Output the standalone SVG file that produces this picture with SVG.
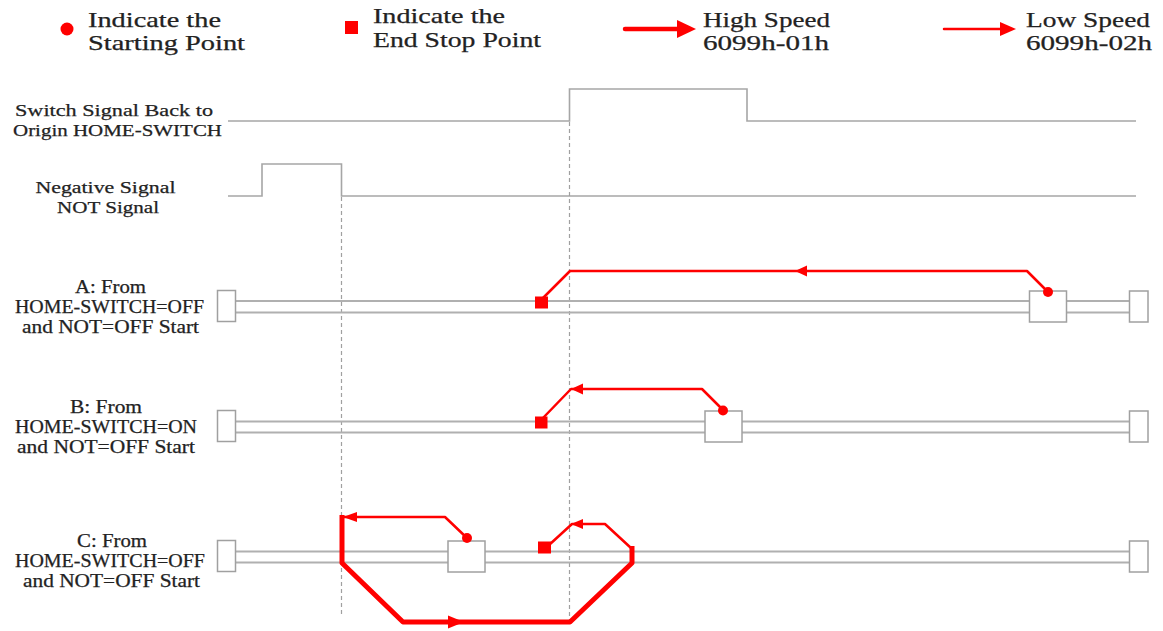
<svg xmlns="http://www.w3.org/2000/svg" width="1163" height="631" viewBox="0 0 1163 631">
<style>
text{font-family:"Liberation Serif","DejaVu Serif",serif;fill:#222;stroke:#222;stroke-width:0.25}
.lg{font-size:21px}
.lb{font-size:18px}
.sl{font-size:17.5px}
.sig{fill:none;stroke:#a6a6a6;stroke-width:1.6}
.trk{stroke:#b0b0b0;stroke-width:1.8}
.box{fill:#fff;stroke:#a0a0a0;stroke-width:1.5}
.dash{stroke:#a0a0a0;stroke-width:1.2;stroke-dasharray:4 3}
.thin{fill:none;stroke:#f00;stroke-width:2.5;stroke-linejoin:round}
.thick{fill:none;stroke:#f00;stroke-width:5;stroke-linejoin:round}
.red{fill:#f00}
</style>
<rect width="1163" height="631" fill="#fff"/>

<g id="legend-start">
<circle class="red" cx="67" cy="29" r="6.5"/>
<text class="lg" x="88" y="27" textLength="133" lengthAdjust="spacingAndGlyphs">Indicate the</text>
<text class="lg" x="88" y="50" textLength="157" lengthAdjust="spacingAndGlyphs">Starting Point</text>
</g>
<g id="legend-end">
<rect class="red" x="345" y="21" width="13" height="13"/>
<text class="lg" x="373" y="23" textLength="132" lengthAdjust="spacingAndGlyphs">Indicate the</text>
<text class="lg" x="373" y="47" textLength="168" lengthAdjust="spacingAndGlyphs">End Stop Point</text>
</g>
<g id="legend-high">
<line x1="625" y1="29" x2="680" y2="29" stroke="#f00" stroke-width="4.5" stroke-linecap="round"/>
<polygon class="red" points="677,20 696,29 677,38"/>
<text class="lg" x="703" y="27" textLength="127" lengthAdjust="spacingAndGlyphs">High Speed</text>
<text class="lg" x="703" y="50" textLength="126" lengthAdjust="spacingAndGlyphs">6099h-01h</text>
</g>
<g id="legend-low">
<line x1="944" y1="29" x2="1003" y2="29" stroke="#f00" stroke-width="2.5" stroke-linecap="round"/>
<polygon class="red" points="1000,22 1016,29 1000,36"/>
<text class="lg" x="1026" y="27" textLength="124" lengthAdjust="spacingAndGlyphs">Low Speed</text>
<text class="lg" x="1026" y="50" textLength="126" lengthAdjust="spacingAndGlyphs">6099h-02h</text>
</g>

<g id="signal-home">
<text class="sl" x="114" y="116" text-anchor="middle" textLength="198" lengthAdjust="spacingAndGlyphs">Switch Signal Back to</text>
<text class="sl" x="117.5" y="136" text-anchor="middle" textLength="209" lengthAdjust="spacingAndGlyphs">Origin HOME-SWITCH</text>
<polyline class="sig" points="228,121 569.5,121 569.5,89 747,89 747,121 1136,121"/>
</g>
<g id="signal-not">
<text class="sl" x="105.5" y="193" text-anchor="middle" textLength="140" lengthAdjust="spacingAndGlyphs">Negative Signal</text>
<text class="sl" x="108" y="213" text-anchor="middle" textLength="102" lengthAdjust="spacingAndGlyphs">NOT Signal</text>
<polyline class="sig" points="228,196 262,196 262,164 341.5,164 341.5,196 1136,196"/>
</g>

<g id="guides">
<line class="dash" x1="341.5" y1="197" x2="341.5" y2="615"/>
<line class="dash" x1="569.5" y1="122" x2="569.5" y2="622"/>
</g>

<g id="track-a">
<text class="lb" x="110.5" y="293" text-anchor="middle" textLength="71" lengthAdjust="spacingAndGlyphs">A: From</text>
<text class="lb" x="109.5" y="313" text-anchor="middle" textLength="189" lengthAdjust="spacingAndGlyphs">HOME-SWITCH=OFF</text>
<text class="lb" x="110.5" y="333" text-anchor="middle" textLength="177" lengthAdjust="spacingAndGlyphs">and NOT=OFF Start</text>
<line class="trk" x1="235" y1="301" x2="1129" y2="301"/>
<line class="trk" x1="235" y1="312.5" x2="1129" y2="312.5"/>
<rect class="box" x="217.5" y="290.5" width="18" height="31"/>
<rect class="box" x="1029.5" y="291" width="37" height="31"/>
<rect class="box" x="1129.5" y="291" width="18.5" height="31"/>
</g>
<g id="track-b">
<text class="lb" x="106" y="413" text-anchor="middle" textLength="72" lengthAdjust="spacingAndGlyphs">B: From</text>
<text class="lb" x="106" y="433" text-anchor="middle" textLength="182" lengthAdjust="spacingAndGlyphs">HOME-SWITCH=ON</text>
<text class="lb" x="106" y="453" text-anchor="middle" textLength="178" lengthAdjust="spacingAndGlyphs">and NOT=OFF Start</text>
<line class="trk" x1="235" y1="421.5" x2="1129" y2="421.5"/>
<line class="trk" x1="235" y1="432.5" x2="1129" y2="432.5"/>
<rect class="box" x="217.5" y="410.5" width="18" height="31"/>
<rect class="box" x="705" y="411" width="37" height="31"/>
<rect class="box" x="1129.5" y="411" width="18.5" height="31"/>
</g>
<g id="track-c">
<text class="lb" x="112" y="547" text-anchor="middle" textLength="70" lengthAdjust="spacingAndGlyphs">C: From</text>
<text class="lb" x="110" y="567" text-anchor="middle" textLength="190" lengthAdjust="spacingAndGlyphs">HOME-SWITCH=OFF</text>
<text class="lb" x="111.5" y="587" text-anchor="middle" textLength="177" lengthAdjust="spacingAndGlyphs">and NOT=OFF Start</text>
<line class="trk" x1="235" y1="551.5" x2="1129" y2="551.5"/>
<line class="trk" x1="235" y1="562.5" x2="1129" y2="562.5"/>
<rect class="box" x="217.5" y="540.5" width="18" height="31"/>
<rect class="box" x="448" y="541" width="37" height="31"/>
<rect class="box" x="1129.5" y="541" width="18.5" height="31"/>
</g>

<g id="connectors">
<polyline class="thin" points="542,299 570,271 1027,271 1048,292"/>
<polygon class="red" points="795,271 807,265.5 807,276.5"/>
<circle class="red" cx="1048" cy="292" r="5"/>
<rect class="red" x="535" y="296.5" width="13" height="12"/>
<polyline class="thin" points="542,419 571,389 702,389 723,410"/>
<polygon class="red" points="571,389 583,383.5 583,394.5"/>
<circle class="red" cx="723" cy="410.5" r="5"/>
<rect class="red" x="535" y="416.5" width="12.5" height="12"/>
<polyline class="thin" points="467,538 445,517 344,517"/>
<polygon class="red" points="343,517 357,512 357,522"/>
<circle class="red" cx="467" cy="538" r="5"/>
<polyline class="thick" points="342,515 342,563 403,622 570,622 632,563 632,546"/>
<polygon class="red" points="464,622 448,615.5 448,628.5"/>
<polyline class="thin" points="631,548 605,524 572,524 549,545"/>
<polygon class="red" points="571,524 583,519 583,529"/>
<rect class="red" x="538" y="541.5" width="13" height="12"/>
</g>
</svg>
